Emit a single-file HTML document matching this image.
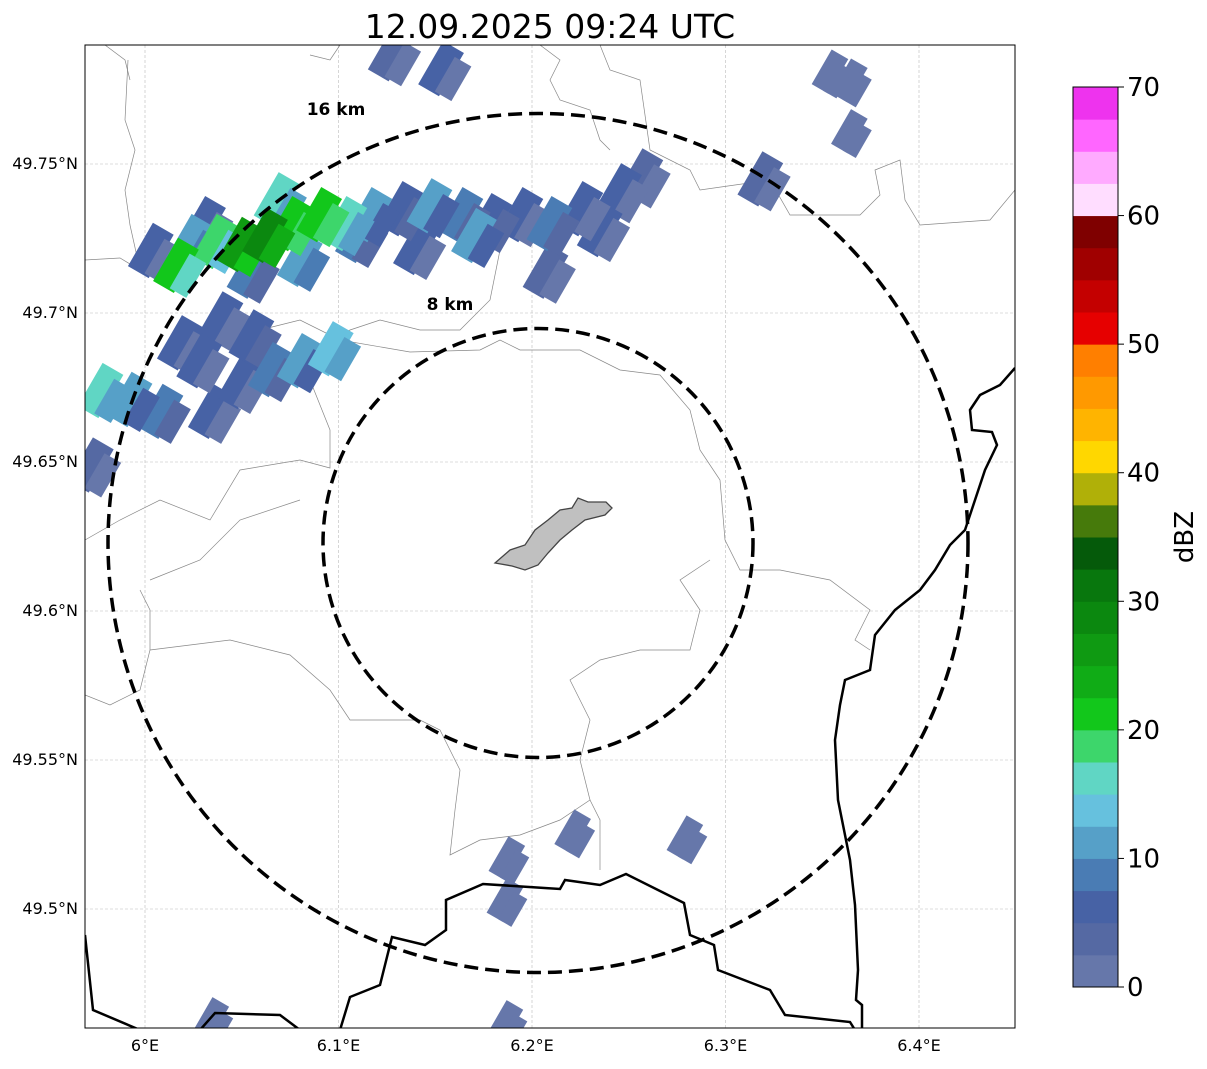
<!DOCTYPE html>
<html><head><meta charset="utf-8"><style>
body{margin:0;background:#fff;font-family:"Liberation Sans",sans-serif}
svg text{font-family:"DejaVu Sans","Liberation Sans",sans-serif}
</style></head><body>
<svg id="s" width="1207" height="1064" xmlns="http://www.w3.org/2000/svg">
<text x="550" y="38" font-size="33" text-anchor="middle">12.09.2025 09:24 UTC</text>
<defs><clipPath id="clip"><rect x="85" y="45" width="930" height="983"/></clipPath></defs>
<g id="map" clip-path="url(#clip)"></g>
<rect x="85" y="45" width="930" height="983" fill="none" stroke="#000" stroke-width="1"/>
<g id="ticks"></g>
<g id="cbar"></g>
</svg>
<script>
const lonTicks=[6.0,6.1,6.2,6.3,6.4];
const lonLabels=["6°E","6.1°E","6.2°E","6.3°E","6.4°E"];
const latTicks=[49.75,49.7,49.65,49.6,49.55,49.5];
const latLabels=["49.75°N","49.7°N","49.65°N","49.6°N","49.55°N","49.5°N"];
const cellLon=[6.003,6.023,6.036,6.049,6.062,6.075,6.090,6.103,6.116,6.132,6.147,6.163,6.178,6.194,6.209,6.225,6.245,6.256,6.207,6.054,6.080,6.318,6.016,6.030,6.068,6.110,6.140,6.170,6.235,
5.977,5.992,6.008,6.028,6.039,6.049,6.065,6.080,6.096,6.034,5.972,6.018,6.055,
6.127,6.153,6.364,6.354,6.364,6.187,6.221,6.279,6.186,6.034,6.186];
const cellLat=[49.721,49.724,49.724,49.723,49.726,49.730,49.733,49.730,49.733,49.735,49.736,49.733,49.731,49.733,49.730,49.735,49.741,49.746,49.714,49.714,49.718,49.745,49.716,49.730,49.738,49.726,49.722,49.726,49.728,
49.674,49.671,49.667,49.684,49.698,49.677,49.681,49.684,49.688,49.667,49.649,49.690,49.692,
49.787,49.782,49.778,49.781,49.761,49.517,49.526,49.524,49.503,49.463,49.462];
const cellDbz=[5,12,18,25,28,22,22,15,10,7,10,8,7,6,8,6,5,3,3,8,12,3,20,6,15,8,6,10,5,
15,10,8,6,5,6,8,11,14,5,3,5,7,
3,5,2,2,2,2,2,2,2,2,2];
const cbTicks=[0,10,20,30,40,50,60,70];
const cbColors=["#6677aa","#5569a3","#4762a5","#4a7cb4","#56a0c8","#66c1de","#60d6c4","#3dd66b","#12c71b","#10ac16","#0f9a12","#0b880f","#08770d","#055a0a","#467a0b","#b0b008","#ffd700","#ffb400","#ff9900","#ff7f00","#e60000","#c40000","#a00000","#7f0000","#ffddff","#ffaaff","#ff66ff","#ee33ee"];
const NS="http://www.w3.org/2000/svg";
const X=lon=>145+(lon-6)*1935, Y=lat=>164-(lat-49.75)*2980;
const CB0=987, CBH=900, cbY=v=>CB0-v/70*CBH;
function mk(t,a,p){const e=document.createElementNS(NS,t);for(const k in a)e.setAttribute(k,a[k]);p.appendChild(e);return e;}
const map=document.getElementById('map'),tk=document.getElementById('ticks'),cb=document.getElementById('cbar');
lonTicks.forEach((v,i)=>{const l=mk('line',{x1:X(v),x2:X(v),y1:45,y2:1028,stroke:'#bbb','stroke-width':0.6,'stroke-dasharray':'3,2'},map);

const t=mk('text',{x:X(v),y:1051,'font-size':16,'text-anchor':'middle'},tk);t.textContent=lonLabels[i];
});
latTicks.forEach((v,i)=>{const l=mk('line',{x1:85,x2:1015,y1:Y(v),y2:Y(v),stroke:'#bbb','stroke-width':0.6,'stroke-dasharray':'3,2'},map);

const t=mk('text',{x:78,y:Y(v)+5,'font-size':16,'text-anchor':'end'},tk);t.textContent=latLabels[i];
});
const thin=["85,260 120,258 140,270 130,225 125,190 135,150 125,120 128,60","140,590 150,610 150,650 140,690 110,705 85,695","85,540 120,520 160,500 210,520 240,470 300,460 330,468 330,430 310,380 330,340 350,330 380,320 420,330 460,330 490,300 500,250","260,330 300,320 340,340 410,352 480,350 500,340 520,350 580,350 620,370 660,375 690,410 700,450 720,480 725,540 740,570 780,570 830,580 870,610 855,640 870,650","150,580 200,560 240,520 300,500","150,650 230,640 290,655 330,690 350,720 420,720 440,730 460,770 455,810 450,855 480,840 520,835 560,820 590,800 600,820 600,870","590,800 580,760 590,720 570,680 600,660 640,650 690,650 700,610 680,580 710,560","600,45 610,70 640,80 650,150 690,170 700,190 770,180 790,215 860,215 880,195 875,170 900,160 905,200 920,225 990,220 1015,190","340,45 330,60 310,55","105,45 125,60 130,80","540,45 560,60 550,80 560,100 590,110 600,140 610,150"];
thin.forEach(p=>{const e=mk('polyline',{points:p,fill:'none',stroke:'#888','stroke-width':0.7},map);});
function col(v){return cbColors[Math.min(cbColors.length-1,Math.max(0,Math.floor(v/2.5)))];}
const order=cellDbz.map((v,i)=>i).sort((a,b)=>cellDbz[a]-cellDbz[b]);
order.forEach(i=>{const cx=X(cellLon[i]),cy=Y(cellLat[i]);const big=cellDbz[i]>2?1:0.8;
const w=24*big,h=50*big;
const r=mk('rect',{x:cx-w/2,y:cy-h/2,width:w,height:h,fill:col(cellDbz[i]),transform:`rotate(30 ${cx} ${cy})`},map);

const r2=mk('rect',{x:cx+w/2-6,y:cy-h/2+8,width:w*0.8,height:h*0.8,fill:col(Math.max(0,cellDbz[i]-4)),transform:`rotate(30 ${cx} ${cy})`},map);
});
const thick=["85,935 93,1010 140,1030","200,1030 215,1013 280,1015 300,1030","340,1030 350,997 380,985 392,937 425,945 446,930 446,900 483,884 560,889 565,880 600,885 626,874 684,903 690,935 714,945 718,970 770,990 785,1015 850,1022 855,1030","862,1030 862,1005 856,1000 858,970 855,905 850,860 838,800 835,740 840,705 845,680 870,670 875,635 895,610 920,590 935,570 950,545 965,530 985,470 997,445 992,432 972,430 970,410 980,395 1000,385 1015,368"];
thick.forEach(p=>{const e=mk('polyline',{points:p,fill:'none',stroke:'#000','stroke-width':2.5},map);});
const c=mk('polygon',{points:"495,563 510,550 525,545 535,530 548,520 560,510 572,508 578,498 588,502 606,502 612,508 605,515 585,520 572,530 560,540 548,553 538,565 525,570 512,566",fill:'#c0c0c0',stroke:'#444','stroke-width':1.3},map);

[[215,'ring-8km'],[430,'ring-16km']].forEach(([r,n])=>{const e=mk('ellipse',{cx:538,cy:543,rx:r,ry:r-0.5,fill:'none',stroke:'#000','stroke-width':3.5,'stroke-dasharray':'14,7'},map);});
[[336,115,'16 km','label-16km'],[450,310,'8 km','label-8km']].forEach(([x,y,t,n])=>{const e=mk('text',{x:x,y:y,'font-size':17,'font-weight':'bold','text-anchor':'middle'},map);e.textContent=t;});
cbColors.forEach((cc,i)=>{const v0=i*2.5,v1=Math.min(70,(i+1)*2.5);if(v0>=70)return;
const r=mk('rect',{x:1073,y:cbY(v1),width:45,height:cbY(v0)-cbY(v1)+0.5,fill:cc},cb);});
mk('rect',{x:1073,y:87,width:45,height:900,fill:'none',stroke:'#000','stroke-width':1},cb);
cbTicks.forEach(v=>{mk('line',{x1:1118,x2:1124,y1:cbY(v),y2:cbY(v),stroke:'#000'},cb);
const t=mk('text',{x:1127,y:cbY(v)+9,'font-size':26},cb);t.textContent=v;});
const ct=mk('text',{x:1193,y:537,'font-size':26,'text-anchor':'middle',transform:'rotate(-90 1193 537)'},cb);ct.textContent='dBZ';

</script>
</body></html>
